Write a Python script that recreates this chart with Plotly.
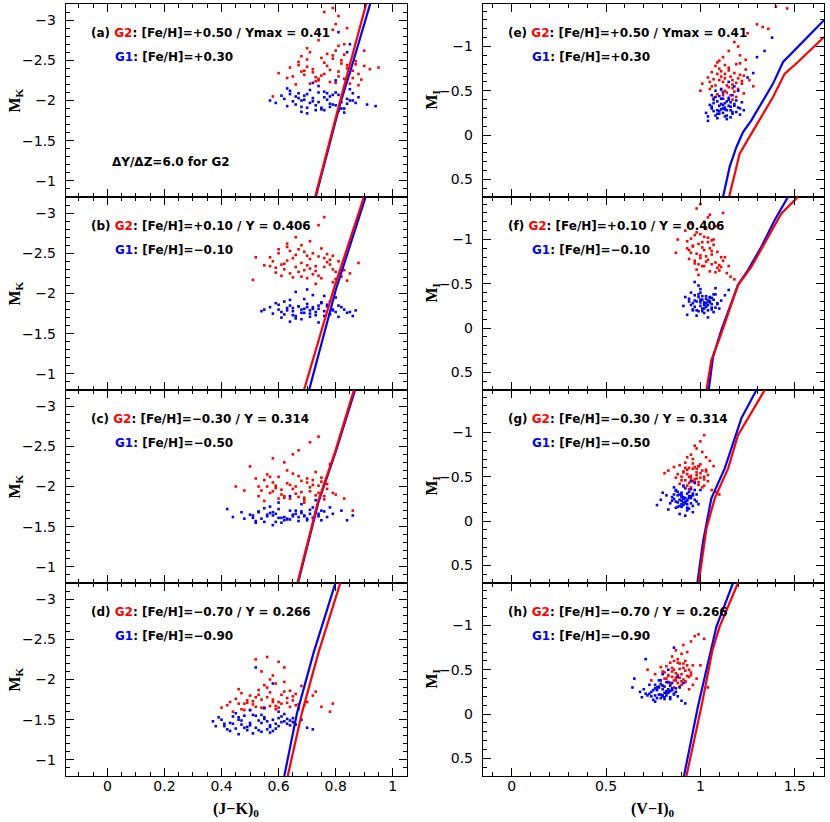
import plotly.graph_objects as go
from plotly.subplots import make_subplots

RED = "#ff0000"
BLUE = "#0000ff"

# ---- (J-K)0 vs M_K panels (a)-(d) ----
a_red_x = [0.65, 0.70, 0.74, 0.78, 0.82, 0.86, 0.68, 0.72, 0.76, 0.80, 0.84, 0.88, 0.66, 0.71, 0.75, 0.79, 0.83, 0.87, 0.69, 0.73,
           0.77, 0.81, 0.85, 0.63, 0.60, 0.92, 0.95, 0.58, 0.90, 0.74, 0.79, 0.83, 0.80, 0.76, 0.81, 0.81, 0.79, 0.70, 0.67, 0.84,
           0.67, 0.73, 0.79, 0.85, 0.89, 0.71, 0.77, 0.83, 0.69, 0.75, 0.81, 0.87, 0.64, 0.72, 0.78, 0.84, 0.70, 0.76, 0.82, 0.88,
           0.74, 0.80, 0.86, 0.68, 0.90]
a_red_y = [-2.30, -2.42, -2.25, -2.38, -2.50, -2.28, -2.55, -2.35, -2.47, -2.22, -2.40, -2.33, -2.20, -2.60, -2.31, -2.52, -2.27, -2.45, -2.37, -2.24,
           -2.58, -2.36, -2.21, -2.28, -2.34, -2.39, -2.41, -2.05, -2.62, -2.75, -2.88, -2.70, -2.95, -3.10, -3.05, -2.68, -3.15, -2.65, -2.48, -2.90,
           -2.44, -2.29, -2.56, -2.34, -2.26, -2.21, -2.43, -2.57, -2.32, -2.53, -2.30, -2.49, -2.41, -2.39, -2.23, -2.44, -2.51, -2.33, -2.46, -2.19,
           -2.27, -2.62, -2.37, -2.36, -2.43]
a_blue_x = [0.62, 0.66, 0.70, 0.74, 0.78, 0.82, 0.86, 0.64, 0.68, 0.72, 0.76, 0.80, 0.84, 0.88, 0.65, 0.69, 0.73, 0.77, 0.81, 0.85,
            0.67, 0.71, 0.75, 0.79, 0.83, 0.57, 0.59, 0.91, 0.94, 0.63, 0.70, 0.74, 0.78, 0.72, 0.76, 0.84, 0.81, 0.85, 0.80, 0.68,
            0.63, 0.69, 0.75, 0.81, 0.87, 0.66, 0.72, 0.78, 0.84, 0.64, 0.70, 0.76, 0.82, 0.68, 0.74, 0.80, 0.86, 0.61, 0.67, 0.73,
            0.79, 0.85, 0.71, 0.77, 0.83]
a_blue_y = [-2.02, -1.95, -2.08, -1.98, -2.05, -1.90, -2.00, -2.12, -1.92, -2.03, -1.88, -2.10, -1.96, -2.04, -1.99, -2.06, -1.94, -2.01, -1.87, -2.14,
            -2.09, -1.97, -1.91, -2.07, -1.85, -2.00, -1.97, -1.95, -1.93, -2.15, -1.84, -2.18, -1.96, -2.22, -2.11, -2.60, -2.85, -2.70, -2.25, -2.00,
            -1.93, -2.01, -1.89, -2.07, -1.97, -2.05, -1.99, -1.92, -2.02, -2.08, -1.91, -2.04, -1.98, -1.86, -2.10, -1.94, -2.09, -2.06, -2.03, -1.88,
            -1.95, -2.00, -2.13, -2.09, -1.90]

b_red_x = [0.58, 0.62, 0.66, 0.70, 0.74, 0.78, 0.60, 0.64, 0.68, 0.72, 0.76, 0.80, 0.57, 0.61, 0.65, 0.69, 0.73, 0.77, 0.59, 0.63,
           0.67, 0.71, 0.75, 0.79, 0.82, 0.85, 0.88, 0.52, 0.51, 0.66, 0.71, 0.74, 0.76, 0.68, 0.63, 0.79, 0.73, 0.70, 0.84, 0.55,
           0.59, 0.65, 0.71, 0.77, 0.62, 0.68, 0.74, 0.80, 0.57, 0.63, 0.69, 0.75, 0.81, 0.60, 0.66, 0.72, 0.78, 0.64, 0.70, 0.76,
           0.61, 0.67, 0.73, 0.79, 0.83]
b_red_y = [-2.40, -2.30, -2.48, -2.35, -2.22, -2.42, -2.55, -2.25, -2.38, -2.50, -2.33, -2.18, -2.45, -2.36, -2.20, -2.52, -2.28, -2.39, -2.32, -2.58,
           -2.27, -2.43, -2.19, -2.30, -2.21, -2.25, -2.38, -2.45, -2.17, -2.70, -2.65, -2.85, -2.95, -2.60, -2.62, -2.14, -2.12, -2.47, -2.16, -2.35,
           -2.26, -2.44, -2.31, -2.49, -2.37, -2.21, -2.46, -2.27, -2.34, -2.41, -2.29, -2.56, -2.40, -2.50, -2.33, -2.24, -2.36, -2.53, -2.19, -2.44,
           -2.22, -2.55, -2.34, -2.47, -2.29]
b_blue_x = [0.60, 0.64, 0.68, 0.72, 0.76, 0.62, 0.66, 0.70, 0.74, 0.78, 0.61, 0.65, 0.69, 0.73, 0.77, 0.63, 0.67, 0.71, 0.75, 0.79,
            0.58, 0.55, 0.54, 0.82, 0.84, 0.86, 0.87, 0.70, 0.66, 0.72, 0.64, 0.68, 0.74, 0.80, 0.59, 0.76, 0.69, 0.71, 0.65, 0.81,
            0.61, 0.67, 0.73, 0.79, 0.63, 0.69, 0.75, 0.81, 0.60, 0.66, 0.72, 0.78, 0.62, 0.68, 0.74, 0.80, 0.64, 0.70, 0.76, 0.65,
            0.71, 0.77, 0.83, 0.57, 0.85]
b_blue_y = [-1.80, -1.85, -1.76, -1.83, -1.78, -1.90, -1.72, -1.87, -1.81, -1.74, -1.70, -1.82, -1.93, -1.77, -1.86, -1.79, -1.84, -1.71, -1.89, -1.80,
            -1.75, -1.80, -1.78, -1.83, -1.76, -1.72, -1.79, -2.05, -2.02, -1.98, -1.65, -1.68, -1.64, -1.95, -1.88, -1.97, -1.81, -1.75, -1.73, -1.85,
            -1.77, -1.84, -1.73, -1.79, -1.82, -1.76, -1.88, -1.71, -1.86, -1.69, -1.81, -1.90, -1.74, -1.80, -1.85, -1.77, -1.92, -1.83, -1.72, -1.78,
            -1.79, -1.84, -1.80, -1.83, -1.77]

c_red_x = [0.54, 0.58, 0.62, 0.66, 0.70, 0.74, 0.56, 0.60, 0.64, 0.68, 0.72, 0.76, 0.53, 0.57, 0.61, 0.65, 0.69, 0.73, 0.77, 0.55,
           0.59, 0.63, 0.67, 0.71, 0.75, 0.45, 0.48, 0.80, 0.83, 0.86, 0.62, 0.67, 0.71, 0.74, 0.58, 0.50, 0.78, 0.65, 0.69, 0.52,
           0.55, 0.61, 0.67, 0.73, 0.57, 0.63, 0.69, 0.75, 0.53, 0.59, 0.65, 0.71, 0.77, 0.56, 0.62, 0.68, 0.74, 0.60, 0.66, 0.72,
           0.64, 0.70, 0.76, 0.58, 0.79]
c_red_y = [-1.95, -2.05, -1.88, -2.00, -2.10, -1.92, -2.15, -1.85, -2.02, -1.93, -2.08, -1.84, -2.00, -2.12, -1.90, -1.97, -1.86, -2.18, -2.03, -1.82,
           -1.98, -2.20, -1.87, -1.99, -2.06, -2.00, -1.95, -1.90, -1.85, -1.70, -2.30, -2.45, -2.55, -2.62, -2.35, -2.25, -2.28, -2.40, -1.80, -2.10,
           -2.08, -1.96, -2.13, -1.89, -1.92, -2.04, -1.83, -2.11, -1.88, -2.01, -2.16, -1.94, -1.97, -2.00, -1.86, -2.07, -2.01, -2.12, -1.91, -2.02,
           -1.85, -2.05, -1.88, -1.94, -1.92]
c_blue_x = [0.50, 0.54, 0.58, 0.62, 0.66, 0.70, 0.74, 0.52, 0.56, 0.60, 0.64, 0.68, 0.72, 0.76, 0.51, 0.55, 0.59, 0.63, 0.67, 0.71,
            0.75, 0.53, 0.57, 0.61, 0.65, 0.69, 0.42, 0.44, 0.47, 0.79, 0.82, 0.86, 0.84, 0.60, 0.64, 0.68, 0.58, 0.73, 0.48, 0.78,
            0.51, 0.57, 0.63, 0.69, 0.75, 0.53, 0.59, 0.65, 0.71, 0.77, 0.55, 0.61, 0.67, 0.73, 0.52, 0.58, 0.64, 0.70, 0.56, 0.62,
            0.68, 0.74, 0.60, 0.66, 0.72]
c_blue_y = [-1.65, -1.60, -1.68, -1.62, -1.70, -1.58, -1.66, -1.57, -1.63, -1.72, -1.59, -1.67, -1.61, -1.69, -1.64, -1.56, -1.66, -1.60, -1.62, -1.71,
            -1.58, -1.69, -1.75, -1.55, -1.65, -1.63, -1.72, -1.62, -1.68, -1.66, -1.70, -1.64, -1.58, -1.80, -1.88, -1.78, -1.52, -1.83, -1.60, -1.74,
            -1.61, -1.67, -1.59, -1.64, -1.70, -1.68, -1.56, -1.63, -1.66, -1.62, -1.73, -1.61, -1.57, -1.68, -1.55, -1.64, -1.70, -1.60, -1.65, -1.58,
            -1.69, -1.63, -1.61, -1.66, -1.74]

d_red_x = [0.46, 0.50, 0.54, 0.58, 0.62, 0.66, 0.48, 0.52, 0.56, 0.60, 0.64, 0.47, 0.51, 0.55, 0.59, 0.63, 0.67, 0.49, 0.53, 0.57,
           0.61, 0.65, 0.40, 0.42, 0.70, 0.72, 0.75, 0.79, 0.78, 0.52, 0.56, 0.58, 0.60, 0.62, 0.54, 0.68, 0.44, 0.57, 0.59, 0.73,
           0.45, 0.51, 0.57, 0.63, 0.47, 0.53, 0.59, 0.65, 0.49, 0.55, 0.61, 0.67, 0.46, 0.52, 0.58, 0.64, 0.50, 0.56, 0.62, 0.48,
           0.54, 0.60, 0.66, 0.43, 0.69]
d_red_y = [-1.70, -1.80, -1.65, -1.75, -1.85, -1.68, -1.62, -1.78, -1.90, -1.72, -1.66, -1.83, -1.73, -1.64, -1.95, -1.77, -1.69, -1.71, -1.87, -1.67,
           -1.81, -1.74, -1.65, -1.68, -1.72, -1.80, -1.66, -1.70, -1.60, -2.25, -2.28, -2.05, -2.22, -2.15, -2.10, -1.92, -1.60, -2.00, -1.63, -1.85,
           -1.76, -1.69, -1.84, -1.71, -1.63, -1.81, -1.67, -1.79, -1.74, -1.93, -1.70, -1.64, -1.88, -1.66, -1.72, -1.86, -1.62, -1.78, -1.97, -1.70,
           -1.75, -1.65, -1.82, -1.72, -1.68]
d_blue_x = [0.40, 0.44, 0.48, 0.52, 0.56, 0.60, 0.64, 0.42, 0.46, 0.50, 0.54, 0.58, 0.62, 0.66, 0.41, 0.45, 0.49, 0.53, 0.57, 0.61,
            0.65, 0.43, 0.47, 0.51, 0.55, 0.59, 0.37, 0.38, 0.68, 0.70, 0.72, 0.63, 0.55, 0.58, 0.52, 0.60, 0.50, 0.57, 0.46, 0.54,
            0.43, 0.49, 0.55, 0.61, 0.45, 0.51, 0.57, 0.63, 0.47, 0.53, 0.59, 0.65, 0.44, 0.50, 0.56, 0.62, 0.48, 0.54, 0.60, 0.46,
            0.52, 0.58, 0.64, 0.41, 0.39]
d_blue_y = [-1.50, -1.45, -1.55, -1.40, -1.48, -1.52, -1.43, -1.38, -1.53, -1.46, -1.35, -1.50, -1.57, -1.44, -1.42, -1.58, -1.37, -1.49, -1.41, -1.54,
            -1.47, -1.36, -1.44, -1.33, -1.51, -1.39, -1.48, -1.42, -1.50, -1.40, -1.38, -1.45, -1.65, -1.95, -2.15, -1.60, -1.62, -1.34, -1.32, -1.56,
            -1.46, -1.41, -1.53, -1.47, -1.39, -1.56, -1.43, -1.51, -1.49, -1.37, -1.45, -1.52, -1.54, -1.43, -1.38, -1.48, -1.40, -1.46, -1.42, -1.50,
            -1.55, -1.36, -1.49, -1.45, -1.53]

# isochrone tracks (J-K)0, M_K
a_red_line_x = [0.728, 0.816, 0.907]
a_red_line_y = [-0.80, -2.00, -3.20]
a_blue_line_x = [0.730, 0.815, 0.856, 0.921]
a_blue_line_y = [-0.80, -1.95, -2.42, -3.20]
b_red_line_x = [0.689, 0.792, 0.899]
b_red_line_y = [-0.80, -2.04, -3.20]
b_blue_line_x = [0.707, 0.800, 0.905]
b_blue_line_y = [-0.80, -2.04, -3.20]
c_red_line_x = [0.666, 0.738, 0.798, 0.864]
c_red_line_y = [-0.80, -1.81, -2.43, -3.20]
c_blue_line_x = [0.668, 0.740, 0.800, 0.868]
c_blue_line_y = [-0.80, -1.81, -2.43, -3.20]
d_red_line_x = [0.632, 0.681, 0.739, 0.818]
d_red_line_y = [-0.80, -1.575, -2.325, -3.22]
d_blue_line_x = [0.620, 0.664, 0.722, 0.792, 0.801]
d_blue_line_y = [-0.80, -1.575, -2.325, -3.12, -3.22]

# ---- (V-I)0 vs M_I panels (e)-(h) ----
e_red_x = [1.06, 1.10, 1.14, 1.18, 1.22, 1.08, 1.12, 1.16, 1.20, 1.24, 1.05, 1.09, 1.13, 1.17, 1.21, 1.07, 1.11, 1.15, 1.19, 1.23,
           1.04, 1.01, 1.00, 1.26, 1.28, 1.15, 1.18, 1.21, 1.25, 1.30, 1.33, 1.36, 1.12, 1.10, 1.20, 1.40, 1.46, 1.24, 1.17, 1.13,
           1.07, 1.11, 1.15, 1.19, 1.23, 1.09, 1.13, 1.17, 1.21, 1.06, 1.10, 1.14, 1.18, 1.22, 1.08, 1.12, 1.16, 1.20, 1.05, 1.11,
           1.15, 1.19, 1.13, 1.17, 1.09]
e_red_y = [-0.55, -0.62, -0.48, -0.70, -0.58, -0.78, -0.45, -0.66, -0.52, -0.74, -0.60, -0.82, -0.50, -0.57, -0.68, -0.42, -0.72, -0.54, -0.80, -0.47,
           -0.65, -0.58, -0.50, -0.62, -0.55, -0.95, -1.05, -0.90, -1.15, -1.25, -1.22, -1.20, -0.88, -0.75, -1.00, -1.45, -1.43, -0.85, -0.40, -0.64,
           -0.63, -0.51, -0.76, -0.59, -0.67, -0.46, -0.69, -0.53, -0.81, -0.71, -0.84, -0.56, -0.49, -0.61, -0.56, -0.60, -0.45, -0.64, -0.52, -0.66,
           -0.73, -0.43, -0.79, -0.62, -0.69]
e_blue_x = [1.06, 1.09, 1.12, 1.15, 1.18, 1.08, 1.11, 1.14, 1.17, 1.20, 1.07, 1.10, 1.13, 1.16, 1.19, 1.05, 1.03, 1.22, 1.23, 1.12,
            1.14, 1.10, 1.16, 1.09, 1.13, 1.11, 1.18, 1.15, 1.04, 1.21, 1.30, 1.34, 1.38, 1.28, 1.25, 1.08, 1.17, 1.12, 1.06, 1.20,
            1.07, 1.10, 1.13, 1.16, 1.19, 1.08, 1.11, 1.14, 1.17, 1.06, 1.09, 1.12, 1.15, 1.18, 1.07, 1.10, 1.13, 1.16, 1.11, 1.14,
            1.12, 1.09, 1.15, 1.21, 1.04]
e_blue_y = [-0.30, -0.38, -0.25, -0.42, -0.33, -0.22, -0.35, -0.28, -0.45, -0.31, -0.40, -0.27, -0.36, -0.20, -0.39, -0.34, -0.25, -0.37, -0.28, -0.48,
            -0.18, -0.44, -0.32, -0.24, -0.29, -0.52, -0.55, -0.60, -0.16, -0.23, -0.88, -0.95, -1.10, -0.70, -0.65, -0.50, -0.26, -0.41, -0.45, -0.50,
            -0.27, -0.33, -0.21, -0.37, -0.26, -0.43, -0.29, -0.38, -0.24, -0.32, -0.19, -0.30, -0.40, -0.35, -0.36, -0.24, -0.31, -0.28, -0.41, -0.22,
            -0.34, -0.28, -0.33, -0.30, -0.21]

f_red_x = [0.95, 0.99, 1.03, 1.07, 1.11, 0.97, 1.01, 1.05, 1.09, 0.94, 0.98, 1.02, 1.06, 1.10, 0.96, 1.00, 1.04, 1.08, 1.12, 0.93,
           0.92, 0.88, 0.87, 1.14, 1.16, 1.18, 1.02, 1.05, 0.98, 1.08, 1.00, 1.04, 1.12, 0.95, 0.99, 1.06, 1.15, 1.03, 1.01, 0.97,
           0.96, 1.00, 1.04, 1.08, 0.94, 0.98, 1.02, 1.06, 1.10, 0.97, 1.01, 1.05, 1.09, 0.95, 0.99, 1.03, 1.07, 1.11, 1.00, 1.04,
           0.98, 1.02, 1.06, 0.93, 1.13]
f_red_y = [-0.85, -0.95, -0.75, -1.00, -0.80, -1.05, -0.70, -0.90, -0.68, -0.78, -1.08, -0.88, -0.72, -0.65, -0.92, -0.82, -1.02, -0.63, -0.76, -0.98,
           -1.10, -1.00, -0.85, -0.62, -0.58, -0.55, -1.20, -1.28, -1.35, -1.15, -1.40, -1.25, -1.30, -1.18, -0.60, -0.87, -0.70, -1.12, -0.97, -0.73,
           -0.93, -0.79, -0.97, -0.74, -0.88, -0.66, -1.03, -0.83, -0.71, -0.76, -0.91, -0.64, -0.86, -1.01, -0.72, -0.81, -0.94, -0.69, -1.06, -0.77,
           -0.84, -0.70, -0.99, -0.90, -0.80]
f_blue_x = [0.96, 0.99, 1.02, 1.05, 1.08, 0.98, 1.01, 1.04, 1.07, 0.95, 0.97, 1.00, 1.03, 1.06, 1.09, 0.94, 0.93, 0.91, 1.11, 1.13,
            1.15, 1.02, 1.04, 1.00, 1.06, 0.99, 1.03, 1.01, 1.05, 0.97, 1.08, 1.10, 0.92, 1.02, 1.04, 0.98, 1.07, 1.00, 1.03, 0.96,
            0.97, 1.00, 1.03, 1.06, 0.96, 0.99, 1.02, 1.05, 1.08, 0.98, 1.01, 1.04, 1.07, 0.95, 1.00, 1.03, 1.06, 1.02, 0.99, 1.05,
            1.01, 1.04, 0.97, 1.09, 0.94]
f_blue_y = [-0.28, -0.35, -0.22, -0.30, -0.38, -0.20, -0.32, -0.26, -0.18, -0.40, -0.24, -0.29, -0.36, -0.21, -0.27, -0.33, -0.15, -0.25, -0.31, -0.37,
            -0.43, -0.17, -0.12, -0.44, -0.23, -0.48, -0.28, -0.19, -0.34, -0.52, -0.45, -0.22, -0.35, -0.26, -0.30, -0.14, -0.38, -0.32, -0.24, -0.20,
            -0.31, -0.25, -0.33, -0.27, -0.21, -0.38, -0.29, -0.35, -0.23, -0.30, -0.36, -0.20, -0.32, -0.26, -0.40, -0.24, -0.34, -0.27, -0.19, -0.29,
            -0.22, -0.31, -0.37, -0.28, -0.30]

g_red_x = [0.90, 0.93, 0.96, 0.99, 1.02, 0.92, 0.95, 0.98, 1.01, 1.04, 0.89, 0.94, 0.97, 1.00, 1.03, 0.91, 0.88, 0.86, 0.83, 0.81,
           1.06, 1.08, 1.10, 0.95, 0.98, 1.00, 1.02, 0.96, 0.93, 1.01, 0.97, 0.99, 1.05, 0.94, 1.03, 0.92, 0.87, 1.07, 0.98, 0.95,
           0.91, 0.94, 0.97, 1.00, 1.03, 0.90, 0.93, 0.96, 0.99, 1.02, 0.92, 0.95, 0.98, 1.01, 1.04, 0.89, 0.94, 0.97, 1.00, 0.96,
           0.99, 0.93, 1.02, 0.91, 0.98]
g_red_y = [-0.50, -0.58, -0.45, -0.62, -0.40, -0.66, -0.48, -0.55, -0.38, -0.52, -0.42, -0.60, -0.47, -0.64, -0.56, -0.39, -0.53, -0.61, -0.57, -0.54,
           -0.35, -0.33, -0.30, -0.75, -0.82, -0.90, -0.97, -0.70, -0.72, -0.78, -0.85, -0.44, -0.68, -0.36, -0.72, -0.46, -0.49, -0.62, -0.59, -0.51,
           -0.55, -0.43, -0.61, -0.49, -0.58, -0.46, -0.53, -0.65, -0.41, -0.47, -0.60, -0.38, -0.52, -0.57, -0.45, -0.63, -0.50, -0.44, -0.54, -0.59,
           -0.62, -0.40, -0.50, -0.56, -0.48]
g_blue_x = [0.86, 0.89, 0.92, 0.95, 0.98, 0.88, 0.91, 0.94, 0.97, 0.87, 0.90, 0.93, 0.96, 0.85, 0.84, 0.82, 0.79, 0.77, 0.80, 0.99,
            0.91, 0.93, 0.89, 0.95, 0.92, 0.90, 0.94, 0.97, 0.88, 0.96, 0.83, 0.91, 0.86, 0.93, 0.98, 1.00, 0.90, 0.95, 0.87, 0.92,
            0.87, 0.90, 0.93, 0.96, 0.88, 0.91, 0.94, 0.97, 0.86, 0.89, 0.92, 0.95, 0.87, 0.90, 0.93, 0.91, 0.94, 0.88, 0.92, 0.95,
            0.89, 0.93, 0.90, 0.85, 0.96]
g_blue_y = [-0.25, -0.30, -0.20, -0.28, -0.22, -0.33, -0.18, -0.26, -0.35, -0.15, -0.23, -0.31, -0.17, -0.27, -0.20, -0.29, -0.24, -0.18, -0.32, -0.19,
            -0.40, -0.12, -0.08, -0.36, -0.06, -0.29, -0.14, -0.43, -0.21, -0.10, -0.13, -0.27, -0.38, -0.24, -0.30, -0.35, -0.16, -0.45, -0.34, -0.22,
            -0.22, -0.27, -0.19, -0.31, -0.29, -0.21, -0.33, -0.24, -0.30, -0.17, -0.26, -0.20, -0.35, -0.32, -0.23, -0.25, -0.28, -0.16, -0.37, -0.26,
            -0.24, -0.15, -0.19, -0.23, -0.29]

h_red_x = [0.82, 0.85, 0.88, 0.91, 0.94, 0.84, 0.87, 0.90, 0.93, 0.96, 0.81, 0.83, 0.86, 0.89, 0.92, 0.95, 0.80, 0.79, 0.76, 0.74,
           0.72, 0.98, 1.00, 0.97, 0.99, 0.95, 0.93, 0.90, 0.87, 0.85, 0.88, 0.91, 1.02, 1.04, 0.94, 0.86, 0.92, 0.83, 0.89, 0.84,
           0.83, 0.86, 0.89, 0.92, 0.95, 0.82, 0.85, 0.88, 0.91, 0.94, 0.84, 0.87, 0.90, 0.93, 0.96, 0.81, 0.86, 0.89, 0.92, 0.85,
           0.88, 0.91, 0.87, 0.90, 0.80]
h_red_y = [-0.40, -0.48, -0.35, -0.52, -0.42, -0.58, -0.38, -0.45, -0.55, -0.33, -0.47, -0.36, -0.50, -0.41, -0.60, -0.44, -0.32, -0.53, -0.45, -0.38,
           -0.50, -0.40, -0.55, -0.88, -0.90, -0.82, -0.70, -0.68, -0.72, -0.65, -0.62, -0.78, -0.85, -0.30, -0.28, -0.30, -0.37, -0.43, -0.57, -0.34,
           -0.44, -0.38, -0.51, -0.36, -0.47, -0.54, -0.42, -0.58, -0.39, -0.50, -0.35, -0.46, -0.33, -0.43, -0.55, -0.40, -0.60, -0.31, -0.49, -0.52,
           -0.44, -0.57, -0.41, -0.37, -0.48]
h_blue_x = [0.74, 0.77, 0.80, 0.83, 0.86, 0.76, 0.79, 0.82, 0.85, 0.73, 0.75, 0.78, 0.81, 0.84, 0.87, 0.72, 0.70, 0.69, 0.68, 0.65,
            0.64, 0.71, 0.88, 0.90, 0.92, 0.80, 0.83, 0.86, 0.78, 0.82, 0.76, 0.79, 0.84, 0.81, 0.85, 0.88, 0.91, 0.77, 0.80, 0.83,
            0.75, 0.78, 0.81, 0.84, 0.87, 0.76, 0.79, 0.82, 0.85, 0.73, 0.77, 0.80, 0.83, 0.86, 0.74, 0.78, 0.81, 0.84, 0.79, 0.82,
            0.76, 0.80, 0.83, 0.71, 0.89]
h_blue_y = [-0.25, -0.30, -0.20, -0.28, -0.22, -0.33, -0.18, -0.26, -0.35, -0.23, -0.16, -0.31, -0.24, -0.17, -0.29, -0.21, -0.28, -0.19, -0.25, -0.40,
            -0.30, -0.62, -0.20, -0.15, -0.12, -0.45, -0.50, -0.75, -0.38, -0.36, -0.14, -0.22, -0.32, -0.19, -0.27, -0.42, -0.35, -0.27, -0.21, -0.24,
            -0.27, -0.22, -0.31, -0.19, -0.25, -0.21, -0.34, -0.24, -0.29, -0.33, -0.18, -0.28, -0.36, -0.23, -0.20, -0.30, -0.17, -0.26, -0.38, -0.21,
            -0.29, -0.32, -0.25, -0.23, -0.30]

# isochrone tracks (V-I)0, M_I
e_red_line_x = [1.152, 1.182, 1.208, 1.270, 1.323, 1.385, 1.447, 1.517, 1.655]
e_red_line_y = [0.70, 0.436, 0.21, -0.016, -0.203, -0.429, -0.694, -0.825, -1.107]
e_blue_line_x = [1.120, 1.155, 1.191, 1.226, 1.270, 1.323, 1.385, 1.438, 1.500, 1.570, 1.655]
e_blue_line_y = [0.70, 0.36, 0.135, -0.034, -0.166, -0.355, -0.581, -0.825, -0.957, -1.107, -1.296]
f_red_line_x = [1.032, 1.058, 1.111, 1.155, 1.199, 1.270, 1.341, 1.429, 1.517]
f_red_line_y = [0.70, 0.363, 0.061, -0.20, -0.485, -0.69, -0.956, -1.295, -1.48]
f_blue_line_x = [1.044, 1.067, 1.111, 1.155, 1.199, 1.252, 1.323, 1.394, 1.464]
f_blue_line_y = [0.70, 0.325, 0.024, -0.24, -0.485, -0.654, -0.918, -1.22, -1.48]
g_red_line_x = [0.991, 1.032, 1.076, 1.147, 1.199, 1.341]
g_red_line_y = [0.70, 0.083, -0.256, -0.595, -0.97, -1.48]
g_blue_line_x = [0.984, 1.014, 1.058, 1.129, 1.217, 1.297]
g_blue_line_y = [0.70, 0.234, -0.256, -0.595, -1.16, -1.48]
h_red_line_x = [0.926, 1.009, 1.064, 1.102, 1.199]
h_red_line_y = [0.70, -0.122, -0.724, -0.988, -1.48]
h_blue_line_x = [0.913, 0.987, 1.085, 1.173]
h_blue_line_y = [0.70, -0.084, -0.988, -1.48]

labels = ["(a)", "(b)", "(c)", "(d)", "(e)", "(f)", "(g)", "(h)"]
g2_text = [": [Fe/H]=+0.50 / Ymax = 0.41", ": [Fe/H]=+0.10 / Y = 0.406",
           ": [Fe/H]=\u22120.30 / Y = 0.314", ": [Fe/H]=\u22120.70 / Y = 0.266"]
g1_text = [": [Fe/H]=+0.30", ": [Fe/H]=\u22120.10", ": [Fe/H]=\u22120.50", ": [Fe/H]=\u22120.90"]

clouds = [
    (a_red_x, a_red_y, a_blue_x, a_blue_y), (b_red_x, b_red_y, b_blue_x, b_blue_y),
    (c_red_x, c_red_y, c_blue_x, c_blue_y), (d_red_x, d_red_y, d_blue_x, d_blue_y),
    (e_red_x, e_red_y, e_blue_x, e_blue_y), (f_red_x, f_red_y, f_blue_x, f_blue_y),
    (g_red_x, g_red_y, g_blue_x, g_blue_y), (h_red_x, h_red_y, h_blue_x, h_blue_y),
]
tracks = [
    (a_red_line_x, a_red_line_y, a_blue_line_x, a_blue_line_y),
    (b_red_line_x, b_red_line_y, b_blue_line_x, b_blue_line_y),
    (c_red_line_x, c_red_line_y, c_blue_line_x, c_blue_line_y),
    (d_red_line_x, d_red_line_y, d_blue_line_x, d_blue_line_y),
    (e_red_line_x, e_red_line_y, e_blue_line_x, e_blue_line_y),
    (f_red_line_x, f_red_line_y, f_blue_line_x, f_blue_line_y),
    (g_red_line_x, g_red_line_y, g_blue_line_x, g_blue_line_y),
    (h_red_line_x, h_red_line_y, h_blue_line_x, h_blue_line_y),
]

W, H = 830, 822
fig = make_subplots(rows=4, cols=2, horizontal_spacing=0.05, vertical_spacing=0)

# pixel geometry of the frames
col_left = [66, 483]
col_right = [407, 824]
row_top = [4, 197, 390, 583]
row_h = 193

text_font = dict(family="DejaVu Sans", size=12, color="black", weight="bold")

for i in range(8):
    col = i // 4
    row = i % 4
    rx, ry, bx, by = clouds[i]
    lrx, lry, lbx, lby = tracks[i]
    r, c = row + 1, col + 1
    fig.add_trace(go.Scatter(x=rx, y=ry, mode="markers", marker=dict(color=RED, size=2.6, symbol="square"),
                             showlegend=False, hoverinfo="skip"), row=r, col=c)
    fig.add_trace(go.Scatter(x=bx, y=by, mode="markers", marker=dict(color=BLUE, size=2.6, symbol="square"),
                             showlegend=False, hoverinfo="skip"), row=r, col=c)
    fig.add_trace(go.Scatter(x=lbx, y=lby, mode="lines", line=dict(color=BLUE, width=2.2),
                             showlegend=False, hoverinfo="skip"), row=r, col=c)
    fig.add_trace(go.Scatter(x=lrx, y=lry, mode="lines", line=dict(color=RED, width=2.2),
                             showlegend=False, hoverinfo="skip"), row=r, col=c)

    top = row_top[row]
    xdom = [col_left[col] / W, col_right[col] / W]
    ydom = [1 - (top + row_h) / H, 1 - top / H]
    axis_common = dict(showgrid=False, zeroline=False, showline=True, linecolor="black", linewidth=1.4,
                       mirror="allticks", ticks="inside", ticklen=8, tickwidth=1.2, tickcolor="black",
                       tickfont=dict(family="DejaVu Sans", size=14, color="black"))
    if col == 0:
        xr, xdt, xminor = [-0.145, 1.05], 0.2, 0.05
        yr = [-0.8, -3.2]
    else:
        xr, xdt, xminor = [-0.152, 1.655], 0.5, 0.1
        yr = [0.7, -1.48]
    fig.update_xaxes(range=xr, dtick=xdt, tick0=0, domain=xdom, showticklabels=(row == 3),
                     minor=dict(dtick=xminor, ticks="inside", ticklen=4, tickcolor="black", tickwidth=1),
                     ticklabelstandoff=-3, **axis_common, row=r, col=c)
    fig.update_yaxes(range=yr, dtick=0.5, tick0=0, domain=ydom,
                     minor=dict(dtick=0.1, ticks="inside", ticklen=4, tickcolor="black", tickwidth=1),
                     ticklabelstandoff=6, **axis_common, row=r, col=c)

    # panel texts
    x0 = (col_left[col] + 23) / W
    x1 = (col_left[col] + 47) / W
    fig.add_annotation(xref="paper", yref="paper", x=x0, y=1 - (top + 29) / H, xanchor="left", yanchor="middle",
                       showarrow=False, font=text_font,
                       text=labels[i] + " <span style='color:#ff0000'>G2</span>" + g2_text[row])
    fig.add_annotation(xref="paper", yref="paper", x=x1, y=1 - (top + 53) / H, xanchor="left", yanchor="middle",
                       showarrow=False, font=text_font,
                       text="<span style='color:#0000ff'>G1</span>" + g1_text[row])
    # y-axis label
    fig.add_annotation(xref="paper", yref="paper", x=(col_left[col] - 51) / W, y=1 - (top + row_h / 2) / H,
                       xanchor="center", yanchor="middle", showarrow=False, textangle=-90,
                       font=dict(family="Liberation Serif", size=16, color="black", weight="bold"),
                       text="M<sub>K</sub>" if col == 0 else "M<sub>I</sub>")

fig.add_annotation(xref="paper", yref="paper", x=110 / W, y=1 - 162 / H, xanchor="left", yanchor="middle",
                   showarrow=False, font=text_font, text="\u0394Y/\u0394Z=6.0 for G2")
fig.add_annotation(xref="paper", yref="paper", x=236 / W, y=1 - 809 / H, xanchor="center", yanchor="middle",
                   showarrow=False, font=dict(family="Liberation Serif", size=16, color="black", weight="bold"),
                   text="(J\u2212K)<sub>0</sub>")
fig.add_annotation(xref="paper", yref="paper", x=653 / W, y=1 - 809 / H, xanchor="center", yanchor="middle",
                   showarrow=False, font=dict(family="Liberation Serif", size=16, color="black", weight="bold"),
                   text="(V\u2212I)<sub>0</sub>")

fig.update_layout(width=W, height=H, margin=dict(l=0, r=0, t=0, b=0),
                  paper_bgcolor="white", plot_bgcolor="white", showlegend=False)

fig.write_html("out.html", config={"displayModeBar": False},
               post_script="document.body.style.margin='0px';document.body.style.overflow='hidden';")
